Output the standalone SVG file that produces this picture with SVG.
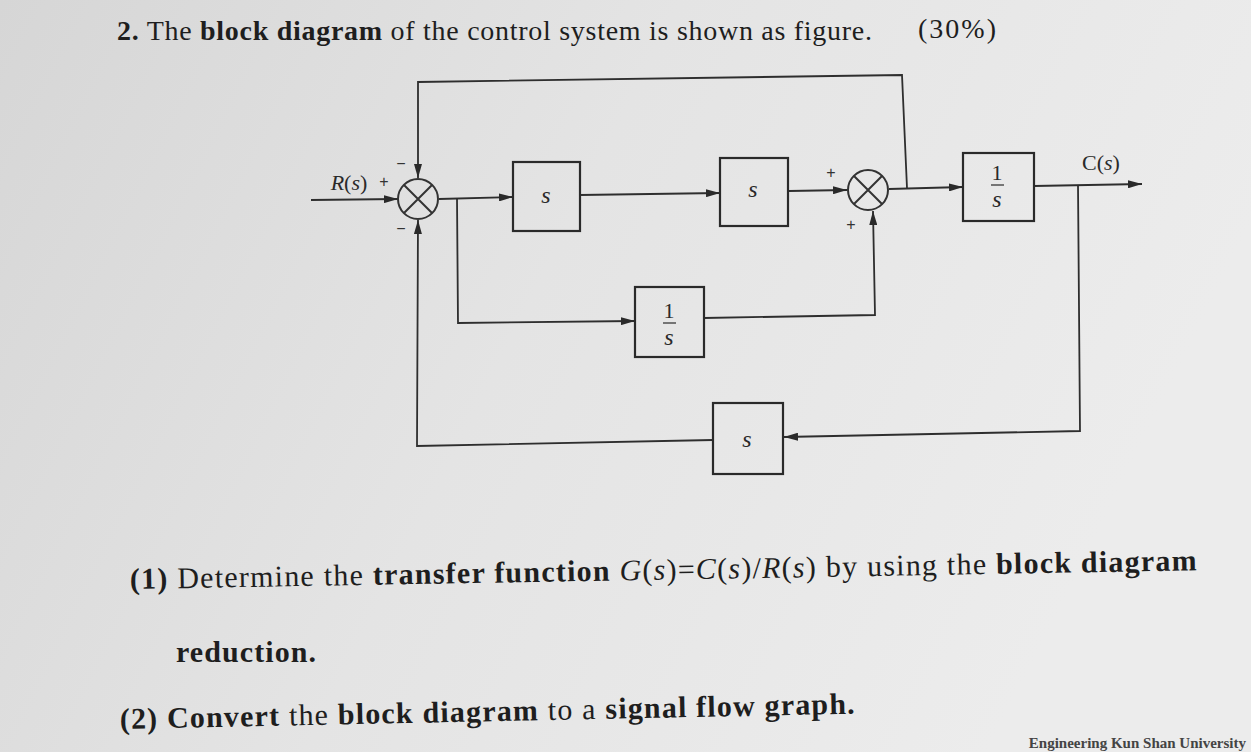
<svg xmlns="http://www.w3.org/2000/svg" width="1251" height="752" viewBox="0 0 1251 752">
<defs>
<linearGradient id="bg" x1="0" y1="0" x2="1" y2="0.3">
<stop offset="0" stop-color="#d6d6d6"/>
<stop offset="0.5" stop-color="#e4e4e4"/>
<stop offset="1" stop-color="#ececec"/>
</linearGradient>
<marker id="arr" viewBox="0 0 14 8" refX="14" refY="4" markerWidth="14" markerHeight="8" markerUnits="userSpaceOnUse" orient="auto">
<path d="M0,0 L14,4 L0,8 Z" fill="#2a2a2a"/>
</marker>
<style>
.ln{fill:none;stroke:#2e2e2e;stroke-width:1.8}
.blk{fill:none;stroke:#2a2a2a;stroke-width:2.2}
.sj{fill:none;stroke:#333;stroke-width:2}
.lab{font-family:"Liberation Serif",serif;font-style:italic;fill:#2a2a2a;font-size:24px;text-anchor:middle}
.num{font-family:"Liberation Serif",serif;fill:#2a2a2a;font-size:22px;text-anchor:middle}
.sg{font-family:"Liberation Sans",sans-serif;fill:#333;font-size:16px;text-anchor:middle}
.t{font-family:"Liberation Serif",serif;fill:#1e1e1e;font-size:28px}
.q{font-size:30px}
.foot{font-size:15px;fill:#444}
.b{font-weight:bold}
.i{font-style:italic}
</style>
</defs>
<rect width="1251" height="752" fill="url(#bg)"/>

<g id="title">
<text class="t" x="117" y="40" textLength="755" lengthAdjust="spacing"><tspan class="b">2.</tspan> The <tspan class="b">block diagram</tspan> of the control system is shown as figure.</text>
<text class="t" x="918" y="38" textLength="78" lengthAdjust="spacing">(30%)</text>
</g>

<g id="connectors">
<path class="ln" d="M311,200 L398,199" marker-end="url(#arr)"/>
<path class="ln" d="M439,199 L513,197" marker-end="url(#arr)"/>
<path class="ln" d="M580,195 L720,193" marker-end="url(#arr)"/>
<path class="ln" d="M789,191 L847,190" marker-end="url(#arr)"/>
<path class="ln" d="M889,189 L963,187" marker-end="url(#arr)"/>
<path class="ln" d="M1034,186 L1142,184" marker-end="url(#arr)"/>
<path class="ln" d="M907,188 L902,75 L418,82 L418,178" marker-end="url(#arr)"/>
<path class="ln" d="M457,198 L458,323 L635,321" marker-end="url(#arr)"/>
<path class="ln" d="M704,318 L875,315 L873,211" marker-end="url(#arr)"/>
<path class="ln" d="M1078,185 L1080,431 L784,437" marker-end="url(#arr)"/>
<path class="ln" d="M713,440 L417,446 L418,220" marker-end="url(#arr)"/>
</g>

<g id="sum1">
<circle class="sj" cx="418" cy="199" r="20"/>
<path class="sj" d="M404,185 L432,213 M432,185 L404,213"/>
<text x="349" y="190" class="num"><tspan class="i">R</tspan>(<tspan class="i">s</tspan>)</text>
<text x="384" y="187" class="sg">+</text>
<text x="401" y="169" class="sg">−</text>
<text x="401" y="234" class="sg">−</text>
</g>

<g id="block_s1">
<rect class="blk" x="513" y="162" width="67" height="69"/>
<text x="546" y="203" class="lab">s</text>
</g>

<g id="block_s2">
<rect class="blk" x="720" y="158" width="68" height="68"/>
<text x="753" y="197" class="lab">s</text>
</g>

<g id="sum2">
<circle class="sj" cx="868" cy="190" r="20"/>
<path class="sj" d="M854,176 L882,204 M882,176 L854,204"/>
<text x="831" y="178" class="sg">+</text>
<text x="851" y="230" class="sg">+</text>
</g>

<g id="block_inv_s_out">
<rect class="blk" x="963" y="153" width="71" height="68"/>
<text x="997" y="180" class="num">1</text>
<line x1="991" y1="185" x2="1004" y2="185" stroke="#2a2a2a" stroke-width="1.2"/>
<text x="997" y="207" class="lab">s</text>
<text x="1101" y="170" class="num">C(<tspan class="i">s</tspan>)</text>
</g>

<g id="block_inv_s_mid">
<rect class="blk" x="635" y="287" width="69" height="70"/>
<text x="669" y="318" class="num">1</text>
<line x1="663" y1="323" x2="676" y2="323" stroke="#2a2a2a" stroke-width="1.2"/>
<text x="669" y="345" class="lab">s</text>
</g>

<g id="block_s3">
<rect class="blk" x="713" y="403" width="70" height="71"/>
<text x="747" y="447" class="lab">s</text>
</g>

<g id="questions">
<text class="t q" x="130" y="589" transform="rotate(-1 130 589)" textLength="1067" lengthAdjust="spacing"><tspan class="b">(1)</tspan> Determine the <tspan class="b">transfer function</tspan> <tspan class="i">G</tspan>(<tspan class="i">s</tspan>)=<tspan class="i">C</tspan>(<tspan class="i">s</tspan>)/<tspan class="i">R</tspan>(<tspan class="i">s</tspan>) by using the <tspan class="b">block diagram</tspan></text>
<text class="t q b" x="176" y="662" textLength="140" lengthAdjust="spacing">reduction.</text>
<text class="t q" x="120" y="729" transform="rotate(-1.2 120 729)" textLength="735" lengthAdjust="spacing"><tspan class="b">(2) Convert</tspan> the <tspan class="b">block diagram</tspan> to a <tspan class="b">signal flow graph.</tspan></text>
<text class="t foot b" x="1246" y="748" text-anchor="end">Engineering Kun Shan University</text>
</g>
</svg>
